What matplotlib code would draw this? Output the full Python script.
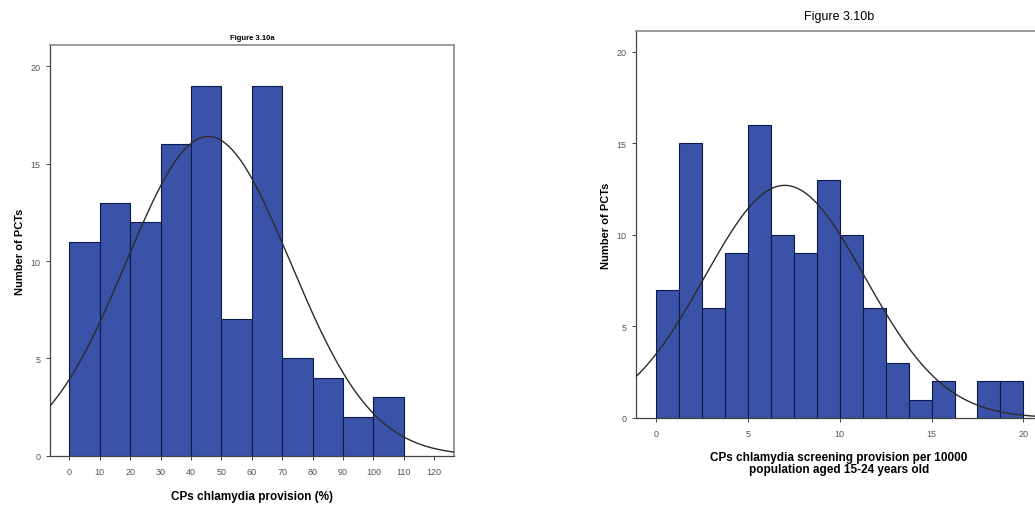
import matplotlib

matplotlib.use("Agg")
import matplotlib.pyplot as plt
import numpy as np

plt.rcParams["font.family"] = ["Liberation Sans", "DejaVu Sans"]

BAR_C, EDGE_C, FRAME_C, CURVE_C = "#3a53a9", "#0c1a4a", "#8a8a8a", "#2b2b2b"

# Figure 3.10a: CP chlamydia provision (%), bins of 10
prov_edges = [0, 10, 20, 30, 40, 50, 60, 70, 80, 90, 100, 110]
prov_counts = [11, 13, 12, 16, 19, 7, 19, 5, 4, 2, 3]
prov_mean, prov_sd = 45.7, 27.0
prov_ticks = [0, 10, 20, 30, 40, 50, 60, 70, 80, 90, 100, 110, 120]

# Figure 3.10b: screening provision per 10000 aged 15-24, bins of 1.25
rate_edges = [0, 1.25, 2.5, 3.75, 5, 6.25, 7.5, 8.75, 10, 11.25, 12.5,
              13.75, 15, 16.25, 17.5, 18.75, 20]
rate_counts = [7, 15, 6, 9, 16, 10, 9, 13, 10, 6, 3, 1, 2, 0, 2, 2]
rate_mean, rate_sd = 7.0, 4.36
rate_ticks = [0, 5, 10, 15, 20]

y_ticks = [0, 5, 10, 15, 20]


def hist_panel(ax, edges, counts, mean, sd, xlim, xticks):
    edges = np.asarray(edges, float)
    counts = np.asarray(counts, float)
    widths = np.diff(edges)
    keep = counts > 0
    ax.bar(edges[:-1][keep], counts[keep], width=widths[keep], align="edge",
           color=BAR_C, edgecolor=EDGE_C, linewidth=0.8, zorder=2)

    # normal overlay scaled to the histogram area
    n, bw = counts.sum(), widths[0]
    xs = np.linspace(xlim[0], xlim[1], 400)
    ys = n * bw / (sd * np.sqrt(2 * np.pi)) * np.exp(-0.5 * ((xs - mean) / sd) ** 2)
    ax.plot(xs, ys, color=CURVE_C, lw=1.0, zorder=3)

    ax.set_xlim(*xlim)
    ax.set_ylim(0, 21.1)
    ax.set_xticks(xticks)
    ax.set_yticks(y_ticks)
    for s in ax.spines.values():
        s.set_color(FRAME_C)
        s.set_linewidth(1.2)
    for side in ("bottom", "left"):
        ax.spines[side].set_color("#444444")
        ax.spines[side].set_linewidth(0.9)
    ax.tick_params(length=3, width=0.7, color="#444444", labelsize=6.5,
                   labelcolor="#555555")
    ax.tick_params(axis="x", pad=5)
    ax.tick_params(axis="y", pad=4)
    ax.set_ylabel("Number of PCTs", fontsize=8, fontweight="bold", labelpad=4)


fig = plt.figure(figsize=(10.35, 5.06), dpi=100)

ax1 = fig.add_axes([0.0483, 0.0974, 0.3903, 0.8117])
hist_panel(ax1, prov_edges, prov_counts, prov_mean, prov_sd, (-6.35, 126.5), prov_ticks)
ax1.set_xlabel("CPs chlamydia provision (%)", fontsize=8.5, fontweight="bold", labelpad=10)
ax1.set_title("Figure 3.10a", fontsize=5.5, fontweight="bold", pad=4)

ax2 = fig.add_axes([0.6145, 0.172, 0.392, 0.764])
hist_panel(ax2, rate_edges, rate_counts, rate_mean, rate_sd, (-1.1, 21.0), rate_ticks)
ax2.set_xlabel("CPs chlamydia screening provision per 10000\npopulation aged 15-24 years old",
               fontsize=8.5, fontweight="bold", labelpad=9, linespacing=1.05)
ax2.set_title("Figure 3.10b", fontsize=9, pad=9)

fig.savefig("out.png", dpi=100)
plt.close(fig)
